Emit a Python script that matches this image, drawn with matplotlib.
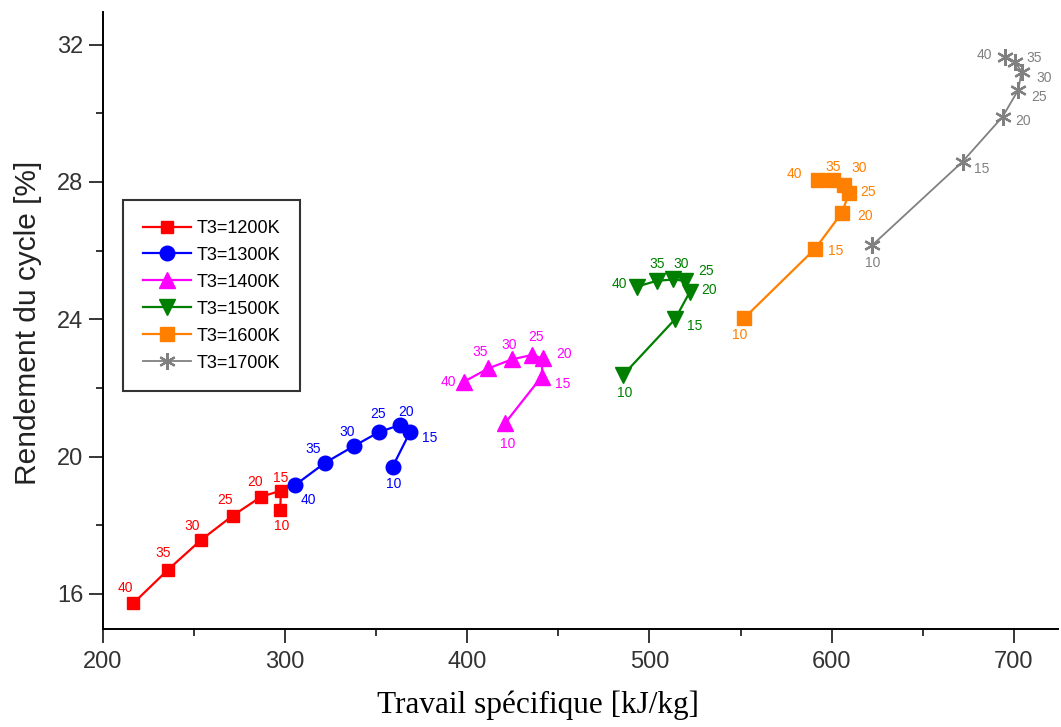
import numpy as np
import matplotlib
matplotlib.use("Agg")
import matplotlib.pyplot as plt
from matplotlib.ticker import MultipleLocator

# ---------------- data -----------------
# pressure ratios (point labels), same for every turbine inlet temperature
ratios = [10, 15, 20, 25, 30, 35, 40]

# specific work [kJ/kg] and cycle efficiency [%] per T3
w_1200 = [297.4, 297.8, 286.9, 271.3, 253.9, 235.7, 216.8]
eta_1200 = [18.44, 19.01, 18.83, 18.28, 17.57, 16.70, 15.73]

w_1300 = [359.1, 368.6, 363.1, 351.8, 337.9, 322.0, 305.5]
eta_1300 = [19.71, 20.71, 20.92, 20.72, 20.31, 19.82, 19.17]

w_1400 = [420.7, 440.9, 441.4, 435.4, 424.4, 411.6, 398.2]
eta_1400 = [20.97, 22.33, 22.86, 22.96, 22.83, 22.57, 22.18]

w_1500 = [485.6, 514.0, 522.2, 519.5, 513.1, 504.0, 493.0]
eta_1500 = [22.38, 24.00, 24.80, 25.12, 25.16, 25.12, 24.95]

w_1600 = [551.9, 591.0, 605.6, 609.6, 606.6, 600.5, 592.6]
eta_1600 = [24.03, 26.06, 27.10, 27.68, 27.91, 28.07, 28.05]

w_1700 = [622.3, 671.8, 693.8, 702.4, 704.2, 700.6, 695.1]
eta_1700 = [26.16, 28.59, 29.90, 30.68, 31.21, 31.50, 31.64]

legend_labels = ["T3=1200K", "T3=1300K", "T3=1400K",
                 "T3=1500K", "T3=1600K", "T3=1700K"]

# ---------------- styles ---------------
styles = [
    dict(color="#ff0000", marker="s", ms=9),
    dict(color="#0000ff", marker="o", ms=10.5),
    dict(color="#ff00ff", marker="^", ms=11),
    dict(color="#007f00", marker="v", ms=11.5),
    dict(color="#ff8000", marker="s", ms=10),
    dict(color="#808080", marker=(6, 2, 0), ms=12),
]

# label offsets in pixels (dx, dy) for ratios 10..40
label_offsets = [
    [(1, -16), (0, 13), (-6, 15), (-8, 16), (-9, 14), (-5, 17), (-8, 15)],
    [(1, -17), (20, -6), (6, 13), (-1, 18), (-7, 14), (-12, 14), (13, -15)],
    [(3, -21), (21, -7), (21, 4), (4, 18), (-2, 14), (-8, 16), (-16, 0)],
    [(2, -18), (20, -7), (19, 2), (21, 10), (8, 15), (0, 17), (-17, 3)],
    [(-4, -17), (20, -2), (23, -3), (19, 1), (15, 17), (1, 13), (-24, 6)],
    [(0, -18), (19, -7), (20, -4), (21, -7), (23, -6), (19, 4), (-21, 2)],
]

series = [(w_1200, eta_1200), (w_1300, eta_1300), (w_1400, eta_1400),
          (w_1500, eta_1500), (w_1600, eta_1600), (w_1700, eta_1700)]

# ---------------- figure ----------------
W, H = 1061, 727
fig = plt.figure(figsize=(W / 100, H / 100), dpi=100)
ax = fig.add_axes([102.7 / W, 1 - 629 / H, (1058 - 102.7) / W, (629 - 12) / H])

for (w, eta), st, lab, offs in zip(series, styles, legend_labels, label_offsets):
    star = st["marker"] == (6, 2, 0)
    ax.plot(w, eta, color=st["color"], lw=1.3 if star else 1.6, marker=st["marker"],
            ms=st["ms"], mfc=st["color"], mec=st["color"], mew=1.6 if star else 1.0,
            label=lab)
    for xi, yi, r, (dx, dy) in zip(w, eta, ratios, offs):
        ax.annotate(str(r), (xi, yi), xytext=(dx, dy), textcoords="offset pixels",
                    ha="center", va="center", fontsize=10, color=st["color"],
                    family="Liberation Sans")

ax.set_xlim(200, 724.2)
ax.set_ylim(14.98, 32.95)
ax.xaxis.set_major_locator(MultipleLocator(100))
ax.xaxis.set_minor_locator(MultipleLocator(50))
ax.yaxis.set_major_locator(MultipleLocator(4))
ax.yaxis.set_minor_locator(MultipleLocator(2))

for s in ["top", "right"]:
    ax.spines[s].set_visible(False)
for s in ["left", "bottom"]:
    ax.spines[s].set_linewidth(1.4)

ax.tick_params(which="major", direction="out", length=10, width=1.1,
               labelsize=17, labelcolor="#333333", pad=4)
ax.tick_params(which="minor", direction="out", length=5, width=1.1)
for t in ax.get_xticklabels() + ax.get_yticklabels():
    t.set_family("Liberation Sans")
ax.tick_params(axis="x", which="major", pad=6)

fig.text(538 / W, 1 - 705 / H, "Travail spécifique [kJ/kg]", ha="center",
         va="center", fontsize=22.5, family="Liberation Serif")
fig.text(28 / W, 1 - 323 / H, "Rendement du cycle [%]", ha="center",
         va="center", rotation=90, fontsize=21.5, family="Liberation Sans",
         color="#222222")

leg = ax.legend(loc="upper left", bbox_to_anchor=(122.7 / W, 1 - 200 / H),
                bbox_transform=fig.transFigure, borderaxespad=0,
                fancybox=False, frameon=True, edgecolor="black",
                prop=dict(family="Liberation Sans", size=13),
                handlelength=2.7, handletextpad=0.3, labelspacing=0.55,
                borderpad=1.1, markerscale=1.0)
leg.get_frame().set_linewidth(1.5)

fig.savefig("out.png", dpi=100)
